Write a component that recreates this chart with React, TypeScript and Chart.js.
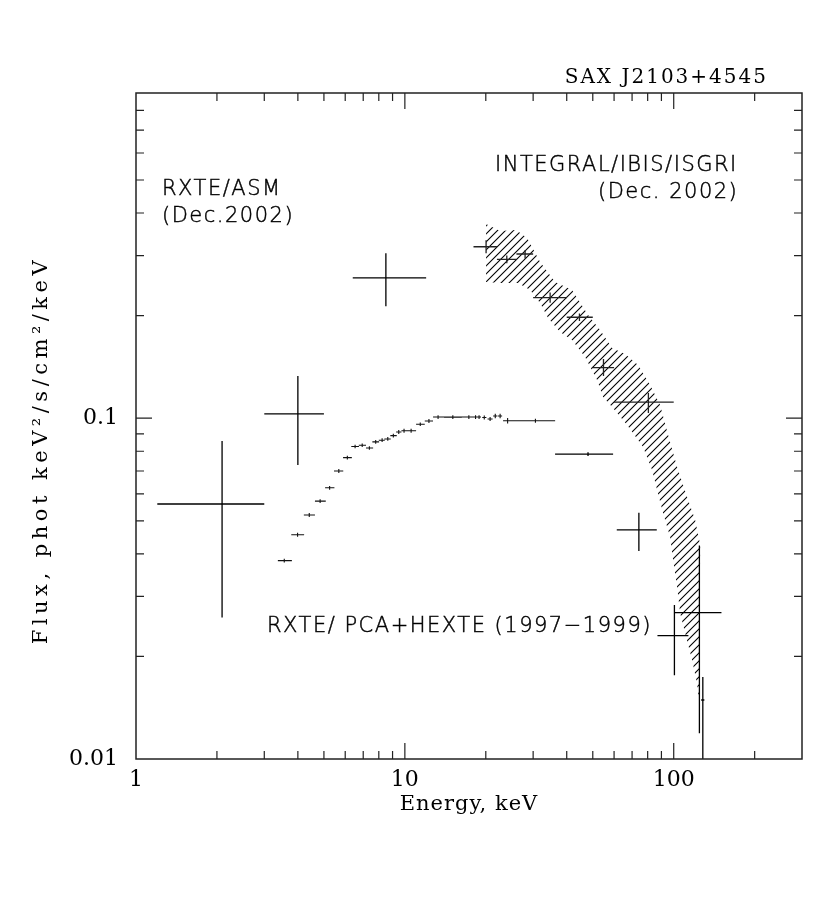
import React, { useEffect, useRef } from "react";
import { Chart, registerables } from "chart.js";

Chart.register(...registerables);

// ---------- axis ticks ----------
const xLabelTicks = [1, 10, 100];
const yLabelTicks = [0.01, 0.1];
const xMinorTicks = [2, 3, 4, 5, 6, 7, 8, 9, 20, 30, 40, 50, 60, 70, 80, 90, 200];
const xMajorTicks = [10, 100];
const yMinorTicks = [0.02, 0.03, 0.04, 0.05, 0.06, 0.07, 0.08, 0.09, 0.2, 0.3, 0.4, 0.5, 0.6, 0.7, 0.8];
const yMajorTicks = [0.1];

// ---------- RXTE/ASM (Dec. 2002) ----------
const asmE = [2.09, 4.0, 8.5];
const asmElo = [1.2, 3.0, 6.4];
const asmEhi = [3.0, 5.0, 12.0];
const asmF = [0.056, 0.103, 0.258];
const asmFlo = [0.026, 0.0729, 0.213];
const asmFhi = [0.0857, 0.133, 0.305];

// ---------- RXTE PCA (1997-1999) ----------
const pcaE = [3.56, 3.99, 4.41, 4.84, 5.25, 5.68, 6.11, 6.53, 6.94, 7.38, 7.79, 8.23, 8.64, 9.06, 9.49, 9.93, 10.55, 11.41, 12.29, 13.29, 15.08, 17.3, 18.32, 18.88, 19.74, 20.75, 21.69, 22.61, 24.11, 30.59];
const pcaElo = [3.37, 3.78, 4.21, 4.63, 5.05, 5.45, 5.89, 6.32, 6.74, 7.17, 7.57, 8.0, 8.39, 8.83, 9.28, 9.71, 10.16, 11.01, 11.86, 12.73, 13.99, 16.28, 18.0, 18.6, 19.4, 20.3, 21.3, 22.2, 23.19, 24.21];
const pcaEhi = [3.8, 4.22, 4.63, 5.08, 5.47, 5.9, 6.35, 6.75, 7.17, 7.62, 8.02, 8.42, 8.86, 9.33, 9.71, 10.16, 11.01, 11.86, 12.73, 13.99, 16.28, 18.56, 18.6, 19.2, 20.1, 21.2, 22.1, 23.0, 25.05, 36.22];
const pcaF = [0.0382, 0.0455, 0.052, 0.0571, 0.0625, 0.07, 0.0766, 0.0826, 0.0833, 0.0818, 0.0852, 0.0862, 0.0869, 0.0889, 0.0911, 0.0919, 0.0919, 0.096, 0.0981, 0.1008, 0.1007, 0.1008, 0.1008, 0.1008, 0.1005, 0.0995, 0.1015, 0.1015, 0.0983, 0.0983];
const pcaFerr = [0.0005, 0.0006, 0.0007, 0.0007, 0.0008, 0.0009, 0.001, 0.001, 0.001, 0.001, 0.0011, 0.0011, 0.0011, 0.0011, 0.0012, 0.0012, 0.0012, 0.0012, 0.0013, 0.0013, 0.0013, 0.0013, 0.0013, 0.0013, 0.0013, 0.0014, 0.0016, 0.0016, 0.0018, 0.0014];

// ---------- RXTE HEXTE (1997-1999) ----------
const hexE = [48.0, 74.2, 100.6, 124.6, 128.3];
const hexElo = [36.2, 61.4, 87.0, 100.6, 126.5];
const hexEhi = [59.5, 86.5, 113.4, 150.5, 130.0];
const hexF = [0.0785, 0.047, 0.023, 0.0269, 0.0149];
const hexFlo = [0.0775, 0.0408, 0.0176, 0.0119, 0.005];
const hexFhi = [0.0795, 0.0528, 0.0283, 0.0423, 0.0174];

// ---------- INTEGRAL/IBIS/ISGRI (Dec. 2002) ----------
const isgriE = [20.05, 23.94, 28.0, 34.7, 44.6, 54.8, 80.5];
const isgriElo = [18, 22, 26, 30, 40, 50, 60];
const isgriEhi = [22, 26, 30, 40, 50, 60, 100];
const isgriF = [0.3185, 0.2926, 0.3033, 0.2258, 0.1978, 0.1407, 0.1115];
const isgriFlo = [0.305, 0.285, 0.294, 0.218, 0.193, 0.133, 0.1036];
const isgriFhi = [0.333, 0.3, 0.311, 0.234, 0.203, 0.1492, 0.1185];

// ---------- hatched model band ----------
const bandUpperE = [20.05, 22.6, 25.93, 28.49, 31.84, 36.22, 41.88, 48.03, 53.23, 59.01, 65.96, 73.74, 81.71, 89.0, 95.32, 102.96, 112.16, 120.15, 125.41];
const bandUpperF = [0.3714, 0.3541, 0.3565, 0.3378, 0.2873, 0.2509, 0.2377, 0.2008, 0.1815, 0.1607, 0.1543, 0.1432, 0.1252, 0.1093, 0.0893, 0.0719, 0.0587, 0.0503, 0.0425];
const bandLowerE = [20.05, 22.6, 26.37, 29.23, 31.84, 34.1, 37.79, 41.88, 46.81, 51.88, 54.62, 59.01, 67.1, 76.92, 83.1, 86.74, 91.29, 96.97, 99.49, 102.96, 105.64, 110.25, 117.07, 122.22, 124.33];
const bandLowerF = [0.2509, 0.2492, 0.2492, 0.2377, 0.2178, 0.1968, 0.179, 0.1697, 0.1512, 0.1294, 0.1154, 0.1079, 0.0955, 0.0823, 0.07047, 0.06155, 0.0527, 0.04482, 0.03836, 0.03197, 0.02682, 0.02343, 0.01952, 0.0166, 0.0147];

type P = { x: number; y: number | null };

function crossPoints(E: number[], Elo: number[], Ehi: number[], F: number[], Flo: number[], Fhi: number[]): P[] {
  const pts: P[] = [];
  for (let i = 0; i < E.length; i++) {
    pts.push({ x: Elo[i], y: F[i] }, { x: Ehi[i], y: F[i] }, { x: E[i], y: null });
    pts.push({ x: E[i], y: Flo[i] }, { x: E[i], y: Fhi[i] }, { x: E[i], y: null });
  }
  return pts;
}

function bandPolygon(): P[] {
  const pts: P[] = [];
  for (let i = 0; i < bandUpperE.length; i++) pts.push({ x: bandUpperE[i], y: bandUpperF[i] });
  for (let i = bandLowerE.length - 1; i >= 0; i--) pts.push({ x: bandLowerE[i], y: bandLowerF[i] });
  return pts;
}

function makeHatch(): CanvasPattern | string {
  const s = 8;
  const c = document.createElement("canvas");
  c.width = s;
  c.height = s;
  const g = c.getContext("2d");
  if (!g) return "rgba(0,0,0,0.3)";
  g.strokeStyle = "#000";
  g.lineWidth = 1.1;
  g.beginPath();
  g.moveTo(-1, s + 1);
  g.lineTo(s + 1, -1);
  g.moveTo(-1, 1);
  g.lineTo(1, -1);
  g.moveTo(s - 1, s + 1);
  g.lineTo(s + 1, s - 1);
  g.stroke();
  return g.createPattern(c, "repeat") || "rgba(0,0,0,0.3)";
}

const framePlugin = {
  id: "frameTicks",
  afterDatasetsDraw(chart: any) {
    const { ctx, chartArea: a, scales } = chart;
    const xs = scales.x;
    const ys = scales.y;
    ctx.save();
    ctx.strokeStyle = "#222";
    ctx.lineWidth = 1.2;
    ctx.beginPath();
    const xt = (vals: number[], len: number) => {
      for (const v of vals) {
        const px = xs.getPixelForValue(v);
        ctx.moveTo(px, a.bottom);
        ctx.lineTo(px, a.bottom - len);
        ctx.moveTo(px, a.top);
        ctx.lineTo(px, a.top + len);
      }
    };
    const yt = (vals: number[], len: number) => {
      for (const v of vals) {
        const py = ys.getPixelForValue(v);
        ctx.moveTo(a.left, py);
        ctx.lineTo(a.left + len, py);
        ctx.moveTo(a.right, py);
        ctx.lineTo(a.right - len, py);
      }
    };
    xt(xMinorTicks, 8);
    xt(xMajorTicks, 16);
    yt(yMinorTicks, 8);
    yt(yMajorTicks, 16);
    ctx.stroke();
    ctx.lineWidth = 1.5;
    ctx.strokeRect(a.left, a.top, a.right - a.left, a.bottom - a.top);
    ctx.restore();
  },
};

const textPlugin = {
  id: "texts",
  afterDraw(chart: any) {
    const { ctx, chartArea: a } = chart;
    ctx.save();
    ctx.fillStyle = "#000";
    ctx.strokeStyle = "#000";
    ctx.textBaseline = "alphabetic";
    // title
    ctx.font = '20px "DejaVu Serif"';
    (ctx as any).letterSpacing = "2px";
    ctx.textAlign = "right";
    ctx.fillText("SAX J2103+4545", 768, 83);
    // x axis title
    ctx.textAlign = "center";
    ctx.font = '21px "DejaVu Serif"';
    (ctx as any).letterSpacing = "1px";
    ctx.fillText("Energy, keV", (a.left + a.right) / 2, 810);
    // y axis title
    ctx.save();
    ctx.translate(42, 450);
    ctx.rotate(-Math.PI / 2);
    ctx.textBaseline = "middle";
    (ctx as any).letterSpacing = "4.5px";
    ctx.fillText("Flux, phot keV\u00b2/s/cm\u00b2/keV", 0, 0);
    ctx.restore();
    // annotations
    ctx.textAlign = "left";
    ctx.font = '200 21px "DejaVu Sans"';
    ctx.lineWidth = 0.45;
    (ctx as any).letterSpacing = "1.5px";
    const t = (s: string, x: number, y: number) => {
      ctx.fillText(s, x, y);
      ctx.strokeText(s, x, y);
    };
    t("RXTE/ASM", 162, 195);
    t("(Dec.2002)", 162, 222);
    t("INTEGRAL/IBIS/ISGRI", 495, 171);
    t("(Dec. 2002)", 598, 198);
    t("RXTE/ PCA+HEXTE (1997\u22121999)", 267, 632);
    ctx.restore();
  },
};

export default function App() {
  const ref = useRef<HTMLCanvasElement>(null);
  useEffect(() => {
    const canvas = ref.current;
    if (!canvas) return;
    const hatch = makeHatch();
    const pcaLo = pcaF.map((f, i) => f - pcaFerr[i]);
    const pcaHi = pcaF.map((f, i) => f + pcaFerr[i]);
    const lineDs = (label: string, data: P[], color: string, width: number) => ({
      label,
      data,
      borderColor: color,
      borderWidth: width,
      pointRadius: 0,
      showLine: true,
      spanGaps: false,
      fill: false,
      tension: 0,
      order: 1,
    });
    const chart = new Chart(canvas, {
      type: "line",
      data: {
        datasets: [
          lineDs("RXTE/ASM", crossPoints(asmE, asmElo, asmEhi, asmF, asmFlo, asmFhi), "#000", 1.3),
          lineDs("RXTE/PCA", crossPoints(pcaE, pcaElo, pcaEhi, pcaF, pcaLo, pcaHi), "#111", 1.1),
          lineDs("RXTE/HEXTE", crossPoints(hexE, hexElo, hexEhi, hexF, hexFlo, hexFhi), "#000", 1.3),
          lineDs("INTEGRAL/ISGRI", crossPoints(isgriE, isgriElo, isgriEhi, isgriF, isgriFlo, isgriFhi), "#222", 1.3),
          {
            label: "band",
            data: bandPolygon(),
            borderWidth: 0,
            borderColor: "rgba(0,0,0,0)",
            backgroundColor: hatch as any,
            fill: "shape",
            pointRadius: 0,
            tension: 0,
            order: 10,
          } as any,
        ],
      },
      options: {
        animation: false,
        responsive: false,
        events: [],
        layout: { padding: { top: 93, right: 28, left: 0, bottom: 0 } },
        plugins: { legend: { display: false }, tooltip: { enabled: false } },
        scales: {
          x: {
            type: "logarithmic",
            min: 1,
            max: 300,
            bounds: "data",
            position: "bottom",
            grid: { display: false, drawTicks: false },
            border: { display: false },
            ticks: {
              autoSkip: false,
              maxRotation: 0,
              padding: 8,
              color: "#000",
              font: { family: "DejaVu Serif", size: 22 },
              callback: (v: any) => String(v),
            },
            afterBuildTicks: (s: any) => {
              s.ticks = xLabelTicks.map((v) => ({ value: v }));
            },
            afterFit: (s: any) => {
              s.height = 152;
            },
          },
          y: {
            type: "logarithmic",
            min: 0.01,
            max: 0.9,
            bounds: "data",
            grid: { display: false, drawTicks: false },
            border: { display: false },
            ticks: {
              autoSkip: false,
              padding: 18,
              color: "#000",
              font: { family: "DejaVu Serif", size: 22 },
              callback: (v: any) => String(v),
            },
            afterBuildTicks: (s: any) => {
              s.ticks = yLabelTicks.map((v) => ({ value: v }));
            },
            afterFit: (s: any) => {
              s.width = 136;
            },
          },
        },
      } as any,
      plugins: [framePlugin, textPlugin],
    });
    return () => chart.destroy();
  }, []);
  return (
    <div style={{ position: "absolute", left: 0, top: 0, width: 830, height: 911, background: "#fff" }}>
      <canvas ref={ref} width={830} height={911} style={{ width: 830, height: 911, display: "block" }} />
    </div>
  );
}
